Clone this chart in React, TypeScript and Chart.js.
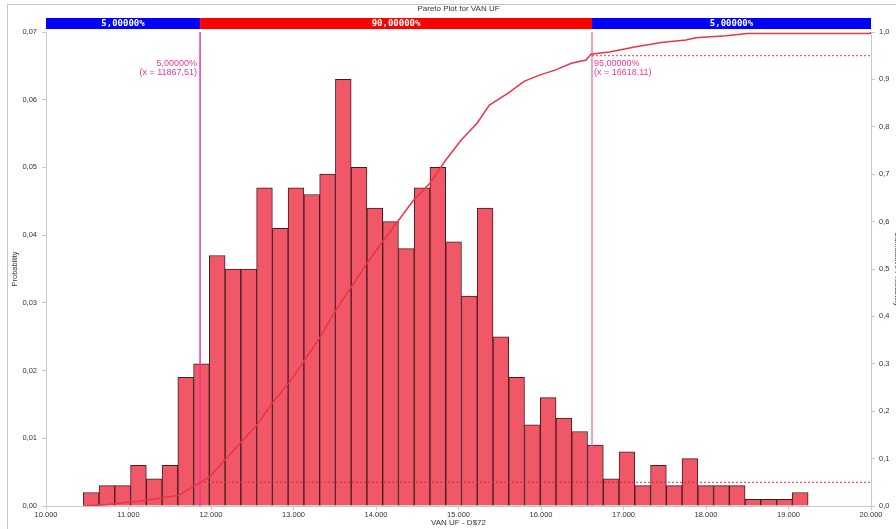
import React, { useEffect, useRef } from 'react';
import { Chart, registerables } from 'chart.js';

Chart.register(...registerables);

// Histogram bins (equal width), lower edge of first bin and bin width
const BIN_START = 10452;
const BIN_WIDTH = 191;
// Probability per bin
const probabilities = [
  0.002, 0.003, 0.003, 0.006, 0.004, 0.006, 0.019, 0.021, 0.037, 0.035,
  0.035, 0.047, 0.041, 0.047, 0.046, 0.049, 0.063, 0.050, 0.044, 0.042,
  0.038, 0.047, 0.050, 0.039, 0.031, 0.044, 0.025, 0.019, 0.012, 0.016,
  0.013, 0.011, 0.009, 0.004, 0.008, 0.003, 0.006, 0.003, 0.007, 0.003,
  0.003, 0.003, 0.001, 0.001, 0.001, 0.002,
];

// Cumulative curve
const cdfX = [
  10452, 10751, 11114, 11598, 11864, 11985, 12349, 12551, 12752, 12954,
  13136, 13317, 13502, 13701, 13886, 14076, 14274, 14459, 14653, 14846,
  15033, 15222, 15375, 15602, 15795, 15981, 16178, 16368, 16546, 16606,
  16828, 16985, 17151, 17333, 17454, 17757, 17878, 18241, 18502, 19988, 20000,
];
const cdfY = [
  0, 0.003, 0.01, 0.022, 0.049, 0.062, 0.132, 0.17, 0.219, 0.262,
  0.308, 0.354, 0.41, 0.462, 0.511, 0.557, 0.603, 0.646, 0.681, 0.73,
  0.772, 0.807, 0.846, 0.871, 0.896, 0.909, 0.92, 0.934, 0.941, 0.953,
  0.958, 0.963, 0.969, 0.974, 0.978, 0.983, 0.988, 0.992, 0.997, 0.997, 1.0,
];

const P_LOW = 11867.51;
const P_HIGH = 16618.11;
const P_LOW_LEVEL = 0.05;
const P_HIGH_LEVEL = 0.95;
const bandLabels = ['5,00000%', '90,00000%', '5,00000%'];
const lowLabel = ['5,00000%', '(x = 11867,51)'];
const highLabel = ['95,00000%', '(x = 16618,11)'];

const TITLE = 'Pareto Plot for VAN UF';
const X_TITLE = 'VAN UF - D$72';
const Y_TITLE = 'Probability';
const Y2_TITLE = 'Cumulative Probability';
const X_MIN = 10000;
const X_MAX = 20000;
const Y_MAX = 0.07;

const FONT = "'Liberation Sans', Arial, sans-serif";
const PINK = '#e8389c';

const fmtThousands = (v: number) =>
  Math.round(v).toString().replace(/\B(?=(\d{3})+(?!\d))/g, '.');

const overlayPlugin = {
  id: 'overlay',
  beforeDraw(chart: any) {
    const { ctx, width, height } = chart;
    ctx.save();
    ctx.fillStyle = '#ffffff';
    ctx.fillRect(0, 0, width, height);
    ctx.strokeStyle = '#c4c4c4';
    ctx.lineWidth = 1;
    ctx.beginPath();
    ctx.moveTo(7.5, height);
    ctx.lineTo(7.5, 4.5);
    ctx.lineTo(width, 4.5);
    ctx.stroke();
    ctx.restore();
  },
  afterDatasetsDraw(chart: any) {
    const { ctx, chartArea, scales } = chart;
    const xs = scales.x;
    const left = chartArea.left;
    const right = chartArea.right;
    const top = chartArea.top;
    const pLow = xs.getPixelForValue(P_LOW);
    const pHigh = xs.getPixelForValue(P_HIGH);
    ctx.save();
    // band
    const bTop = top - 14;
    const bH = 11;
    const segs = [
      [left, pLow, '#0000ff'],
      [pLow, pHigh, '#ff0000'],
      [pHigh, right, '#0000ff'],
    ] as [number, number, string][];
    ctx.font = "bold 9px 'DejaVu Sans Mono', monospace";
    ctx.textAlign = 'center';
    ctx.textBaseline = 'middle';
    segs.forEach(([a, b, c], i) => {
      ctx.fillStyle = c;
      ctx.fillRect(a, bTop, b - a, bH);
      ctx.fillStyle = '#ffffff';
      ctx.fillText(bandLabels[i], (a + b) / 2, bTop + bH / 2 + 0.5);
    });
    // title
    ctx.fillStyle = '#333333';
    ctx.font = `8px ${FONT}`;
    ctx.fillText(TITLE, (left + right) / 2, 9);
    // annotations
    ctx.fillStyle = PINK;
    ctx.font = `9px ${FONT}`;
    ctx.textAlign = 'right';
    ctx.fillText(lowLabel[0], pLow - 3, top + 32);
    ctx.fillText(lowLabel[1], pLow - 3, top + 41);
    ctx.textAlign = 'left';
    ctx.fillText(highLabel[0], pHigh + 2, top + 32);
    ctx.fillText(highLabel[1], pHigh + 2, top + 41);
    ctx.restore();
  },
};

export default function App() {
  const ref = useRef<HTMLCanvasElement | null>(null);

  useEffect(() => {
    if (!ref.current) return;
    const bars = probabilities.map((p, i) => ({
      x: BIN_START + BIN_WIDTH * (i + 0.5),
      y: p,
    }));
    const cdf = cdfX.map((x, i) => ({ x, y: cdfY[i] }));
    const tickFont = { family: FONT, size: 7.5 };

    const chart = new Chart(ref.current, {
      type: 'bar',
      data: {
        datasets: [
          {
            type: 'line',
            label: 'Cumulative',
            data: cdf,
            yAxisID: 'y2',
            borderColor: 'rgb(236,52,68)',
            borderWidth: 1.5,
            pointRadius: 0,
            tension: 0,
            order: 0,
          },
          {
            type: 'line',
            label: 'low',
            data: [
              { x: P_LOW, y: 0 },
              { x: P_LOW, y: 1 },
            ],
            yAxisID: 'y2',
            borderColor: PINK,
            borderWidth: 1.5,
            pointRadius: 0,
            order: 0,
          },
          {
            type: 'line',
            label: 'high',
            data: [
              { x: P_HIGH, y: 0 },
              { x: P_HIGH, y: 1 },
            ],
            yAxisID: 'y2',
            borderColor: 'rgba(236,80,160,0.75)',
            borderWidth: 1.5,
            pointRadius: 0,
            order: 0,
          },
          {
            type: 'line',
            label: 'lowLevel',
            data: [
              { x: P_LOW, y: P_LOW_LEVEL },
              { x: X_MAX, y: P_LOW_LEVEL },
            ],
            yAxisID: 'y2',
            borderColor: 'rgb(225,35,60)',
            borderWidth: 1,
            borderDash: [2, 2],
            pointRadius: 0,
            order: 0,
          },
          {
            type: 'line',
            label: 'highLevel',
            data: [
              { x: P_HIGH, y: P_HIGH_LEVEL },
              { x: X_MAX, y: P_HIGH_LEVEL },
            ],
            yAxisID: 'y2',
            borderColor: 'rgb(235,60,80)',
            borderWidth: 1,
            borderDash: [2, 2],
            pointRadius: 0,
            order: 0,
          },
          {
            type: 'bar',
            label: 'Probability',
            data: bars,
            yAxisID: 'y',
            backgroundColor: 'rgb(240,88,104)',
            borderColor: 'rgb(70,28,32)',
            borderWidth: 1,
            barPercentage: 1,
            categoryPercentage: 1,
            order: 1,
          },
        ] as any,
      },
      options: {
        responsive: false,
        animation: false,
        devicePixelRatio: 1,
        layout: { padding: { top: 32, left: 0, right: 0, bottom: 0 } },
        plugins: {
          legend: { display: false },
          tooltip: { enabled: false },
          title: { display: false },
        },
        scales: {
          x: {
            type: 'linear',
            min: X_MIN,
            max: X_MAX,
            offset: false,
            afterFit: (s: any) => {
              s.height = 23;
            },
            ticks: {
              stepSize: 1000,
              color: '#333',
              font: tickFont,
              padding: 0,
              maxRotation: 0,
              autoSkip: false,
              callback: (v: any) => fmtThousands(Number(v)),
            },
            grid: {
              offset: false,
              drawOnChartArea: false,
              drawTicks: true,
              tickLength: 4,
              color: '#c8c8c8',
            },
            border: { color: '#c8c8c8' },
            title: {
              display: true,
              text: X_TITLE,
              color: '#333',
              font: { family: FONT, size: 8 },
              padding: { top: 0, bottom: 1 },
            },
          },
          y: {
            type: 'linear',
            position: 'left',
            min: 0,
            max: Y_MAX,
            afterFit: (s: any) => {
              s.width = 46;
            },
            ticks: {
              stepSize: 0.01,
              color: '#333',
              font: tickFont,
              padding: 5,
              callback: (v: any) => Number(v).toFixed(2).replace('.', ','),
            },
            grid: {
              drawOnChartArea: false,
              tickLength: 4,
              color: '#c8c8c8',
            },
            border: { color: '#c8c8c8' },
            title: {
              display: true,
              text: Y_TITLE,
              color: '#333',
              font: { family: FONT, size: 7.5 },
              padding: { top: 10, bottom: 0 },
            },
          },
          y2: {
            type: 'linear',
            position: 'right',
            min: 0,
            max: 1,
            afterFit: (s: any) => {
              s.width = 25;
            },
            ticks: {
              stepSize: 0.1,
              color: '#333',
              font: tickFont,
              padding: 4,
              callback: (v: any) => Number(v).toFixed(1).replace('.', ','),
            },
            grid: {
              drawOnChartArea: false,
              tickLength: 4,
              color: '#c8c8c8',
            },
            border: { color: '#c8c8c8' },
            title: {
              display: true,
              text: Y2_TITLE,
              color: '#6b2a20',
              font: { family: FONT, size: 7.5 },
              padding: { top: -6, bottom: 0 },
            },
          },
        },
      } as any,
      plugins: [overlayPlugin],
    });
    return () => chart.destroy();
  }, []);

  return (
    <div style={{ position: 'fixed', left: 0, top: 0, width: 896, height: 529 }}>
      <canvas ref={ref} width={896} height={529} style={{ display: 'block' }} />
    </div>
  );
}
